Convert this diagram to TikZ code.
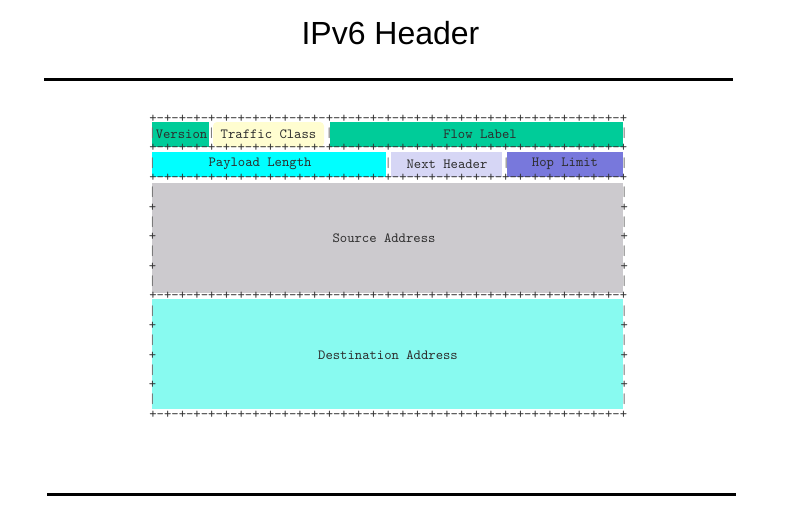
\documentclass[tikz,border=0pt]{standalone}
\usepackage{fontspec}
\newfontfamily\titlefont{Liberation Sans}
\usepackage{tikz}

\definecolor{fieldgreen}{RGB}{0,204,153}
\definecolor{tcyellow}{RGB}{255,253,208}
\definecolor{plcyan}{RGB}{0,255,255}
\definecolor{nhlavender}{RGB}{214,214,245}
\definecolor{hlblue}{RGB}{120,120,220}
\definecolor{srcgray}{RGB}{204,202,206}
\definecolor{dstaqua}{RGB}{136,250,240}
\definecolor{labelgray}{RGB}{45,45,45}

\newcommand{\bitoct}{-+-+-+-+-+-+-+-+}
\newcommand{\bitrule}{+\bitoct\bitoct\bitoct\bitoct}

\tikzset{
  ascii/.style={inner sep=0pt, font=\fontsize{10.5}{12}\ttfamily, text=black!80},
  asciibar/.style={inner sep=0pt, font=\fontsize{10.5}{12}\ttfamily, text=black!55},
  fieldtext/.style={inner sep=0pt, font=\fontsize{10.5}{12}\ttfamily, text=labelgray},
  rule/.style={line width=2.25pt, black},
}

\begin{document}
\begin{tikzpicture}[x=0.75pt,y=0.75pt,yscale=-1,xscale=1]
\useasboundingbox (0,0) rectangle (790,519);

% Text Node
\node[anchor=base, inner sep=0pt, font=\titlefont\fontsize{24}{28}\selectfont] (title) at (390.5,44) {IPv6 Header};
%Straight Lines
\draw[rule] (44,79) -- (733,79);
\draw[rule] (47,494) -- (736,494);

%Shape: Rectangle
\fill[fieldgreen] (152,122) rectangle (209,147);
\fill[tcyellow, rounded corners=3pt] (213,122) rectangle (324,147);
\fill[fieldgreen] (330,122) rectangle (623,147);
\fill[plcyan] (152,152) rectangle (386,177);
\fill[nhlavender] (391,152) rectangle (502,177);
\fill[hlblue] (507,152) rectangle (623,177);
\fill[srcgray] (152,183) rectangle (623,293);
\fill[dstaqua] (152,299) rectangle (623,409);

% Text Node
\node[fieldtext] (version) at (181.5,134) {Version};
\node[fieldtext] (traffic) at (268.5,134) {Traffic Class};
\node[fieldtext] (flow) at (480,134) {Flow Label};
\node[fieldtext] (payload) at (260,164) {Payload Length};
\node[fieldtext] (nexthdr) at (447,164) {Next Header};
\node[fieldtext] (hoplimit) at (565,164) {Hop Limit};
\node[fieldtext] (source) at (384,238.5) {Source Address};
\node[fieldtext] (dest) at (388,355.5) {Destination Address};

% ascii borders
\foreach \i/\nm in {0/ra, 2/rb, 4/rc, 12/rd, 20/re}
  \node[ascii] (\nm) at (388.25,118.5+14.8*\i) {\bitrule};
\foreach \c in {0,8,24,64}
  \node[asciibar] (bara\c) at (152.5+7.37*\c,133.3) {|};
\foreach \c in {0,32,48,64}
  \node[asciibar] (barb\c) at (152.5+7.37*\c,162.9) {|};
\foreach \i in {5,7,9,11,13,15,17,19}{
  \node[asciibar] (barl\i) at (152.5,118.5+14.8*\i) {|};
  \node[asciibar] (barr\i) at (624.2,118.5+14.8*\i) {|};
}
\foreach \i in {6,8,10,14,16,18}{
  \node[ascii] (plusl\i) at (152.5,118.5+14.8*\i) {+};
  \node[ascii] (plusr\i) at (624.2,118.5+14.8*\i) {+};
}
\end{tikzpicture}
\end{document}
